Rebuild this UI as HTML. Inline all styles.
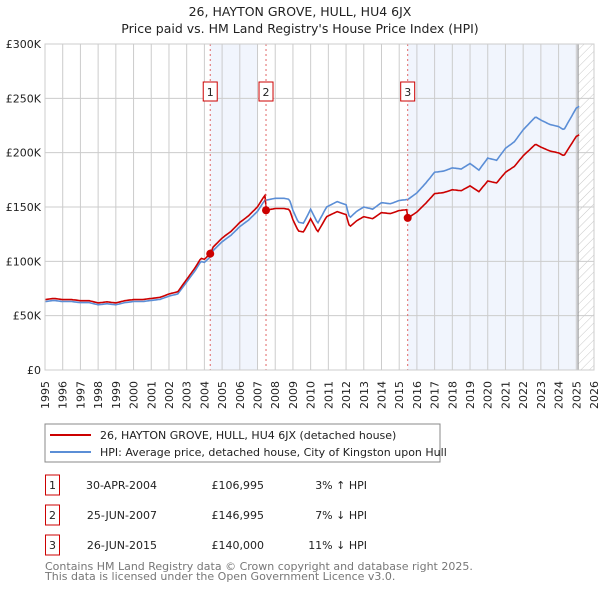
<!DOCTYPE html>
<html><head><meta charset="utf-8"><style>
body{margin:0;background:#fff;font-family:"DejaVu Sans","Liberation Sans",sans-serif;}
svg text{font-family:"DejaVu Sans","Liberation Sans",sans-serif;}
</style></head><body>
<svg id="c" width="600" height="590" xmlns="http://www.w3.org/2000/svg">
<defs><pattern id="hatch" width="6" height="6" patternUnits="userSpaceOnUse" patternTransform="rotate(45)"><line x1="0" y1="0" x2="0" y2="6" stroke="#bbb" stroke-width="0.8"/></pattern></defs>
<text x="300" y="16" text-anchor="middle" font-size="12.5" fill="#222">26, HAYTON GROVE, HULL, HU4 6JX</text>
<text x="300" y="33" text-anchor="middle" font-size="12.5" fill="#222">Price paid vs. HM Land Registry's House Price Index (HPI)</text>
<g id="plot"></g>
<rect x="45" y="424" width="395" height="38" fill="#fff" stroke="#888"/>
<line x1="50" y1="435" x2="91" y2="435" stroke="#cc0000" stroke-width="2"/>
<text x="100" y="439" font-size="11" fill="#222">26, HAYTON GROVE, HULL, HU4 6JX (detached house)</text>
<line x1="50" y1="452" x2="91" y2="452" stroke="#5b8ed6" stroke-width="2"/>
<text x="100" y="456" font-size="11" fill="#222">HPI: Average price, detached house, City of Kingston upon Hull</text>
<g id="tbl" font-size="11" fill="#222"></g>
<text x="45" y="570" font-size="11" fill="#777">Contains HM Land Registry data © Crown copyright and database right 2025.</text>
<text x="45" y="580" font-size="11" fill="#777">This data is licensed under the Open Government Licence v3.0.</text>
</svg>
<script>
const hpiYears=[1995,1995.5,1996,1996.5,1997,1997.5,1998,1998.5,1999,1999.5,2000,2000.5,2001,2001.5,2002,2002.5,2003,2003.5,2003.8,2004,2004.33,2004.5,2005,2005.5,2006,2006.5,2007,2007.4,2007.7,2008,2008.5,2008.8,2009,2009.3,2009.6,2010,2010.4,2010.9,2011.5,2012,2012.2,2012.6,2013,2013.5,2014,2014.5,2015,2015.5,2016,2016.5,2017,2017.5,2018,2018.5,2019,2019.5,2020,2020.5,2021,2021.5,2022,2022.7,2023,2023.5,2024,2024.3,2025,2025.2];
const hpiValues=[63,64,63,63,62,62,60,61,60,62,63,63,64,65,68,70,81,92,100,99,104,110,118,124,132,138,146,156,157,158,158,157,147,136,135,148,135,150,155,152,140,146,150,148,154,153,156,157,163,172,182,183,186,185,190,184,195,193,204,210,221,233,230,226,224,221,241,243];
const saleLabels=["1","2","3"];
const saleYears=[2004.33,2007.48,2015.48];
const salePrices=[106995,146995,140000];
const saleDates=["30-APR-2004","25-JUN-2007","26-JUN-2015"];
const salePriceText=["£106,995","£146,995","£140,000"];
const saleHpiText=["3% ↑ HPI","7% ↓ HPI","11% ↓ HPI"];
const yTicks=[0,50000,100000,150000,200000,250000,300000];
const yTickLabels=["£0","£50K","£100K","£150K","£200K","£250K","£300K"];
const xTicks=[];for(let y=1995;y<=2026;y++)xTicks.push(y);

const L=45,R=594,T=44,B=370,x0=1995,x1=2026,yMax=300000;
const X=v=>L+(v-x0)/(x1-x0)*(R-L);
const Y=v=>B-v/yMax*(B-T);
const NS="http://www.w3.org/2000/svg";
const g=document.getElementById('plot');
function mk(tag,a,parent){const e=document.createElementNS(NS,tag);for(const k in a)e.setAttribute(k,a[k]);(parent||g).appendChild(e);return e;}
function hpiAt(t){for(let i=1;i<hpiYears.length;i++){if(t<=hpiYears[i]){const f=(t-hpiYears[i-1])/(hpiYears[i]-hpiYears[i-1]);return hpiValues[i-1]+f*(hpiValues[i]-hpiValues[i-1]);}}return hpiValues[hpiValues.length-1];}

let e;
e=mk('rect',{x:L,y:T,width:R-L,height:B-T,fill:'#fff'});


e=mk('rect',{x:X(saleYears[0]),y:T,width:X(2007)-X(saleYears[0]),height:B-T,fill:'#eef3fc',opacity:0.8});


e=mk('rect',{x:X(saleYears[2]),y:T,width:X(2025.1)-X(saleYears[2]),height:B-T,fill:'#eef3fc',opacity:0.8});


e=mk('rect',{x:X(2025.1),y:T,width:R-X(2025.1),height:B-T,fill:'url(#hatch)'});


xTicks.forEach(t=>{
  e=mk('line',{x1:X(t),x2:X(t),y1:T,y2:B,stroke:'#ccc','stroke-width':1});
  
  
  e=mk('text',{x:0,y:0,transform:`translate(${X(t)+4},${B+11}) rotate(-90)`,'text-anchor':'end','font-size':11,fill:'#222'});
  e.textContent=t;
  
  
});
yTicks.forEach((t,i)=>{
  e=mk('line',{x1:L,x2:R,y1:Y(t),y2:Y(t),stroke:'#ccc','stroke-width':1});
  
  
  e=mk('text',{x:L-4,y:Y(t)+4,'text-anchor':'end','font-size':11,fill:'#222'});
  e.textContent=yTickLabels[i];
  
  
});
e=mk('line',{x1:X(2025.1),x2:X(2025.1),y1:T,y2:B,stroke:'#999','stroke-width':1.2});


let pts=[];const endT=2025.2;
for(let t=x0;t<=endT+1e-6;t+=1/12)pts.push([t,hpiAt(t)*1000]);
e=mk('polyline',{points:pts.map(p=>X(p[0]).toFixed(1)+','+Y(p[1]).toFixed(1)).join(' '),fill:'none',stroke:'#5b8ed6','stroke-width':1.6});


function ratioAt(t){let k=0;for(let i=0;i<saleYears.length;i++)if(t>=saleYears[i])k=i;return salePrices[k]/(hpiAt(saleYears[k])*1000);}
let rp=pts.map(p=>[p[0],p[1]*ratioAt(p[0])]);
e=mk('polyline',{points:rp.map(p=>X(p[0]).toFixed(1)+','+Y(p[1]).toFixed(1)).join(' '),fill:'none',stroke:'#cc0000','stroke-width':1.6});


saleYears.forEach((s,i)=>{
  e=mk('line',{x1:X(s),x2:X(s),y1:T,y2:B,stroke:'#e06666','stroke-width':1,'stroke-dasharray':'2,3'});
  
  
  e=mk('circle',{cx:X(s),cy:Y(salePrices[i]),r:4,fill:'#cc0000'});
  
  
  e=mk('rect',{x:X(s)-7,y:82,width:14,height:19,fill:'#fff',stroke:'#cc0000'});
  
  
  e=mk('text',{x:X(s),y:96,'text-anchor':'middle','font-size':11,fill:'#222'});
  e.textContent=saleLabels[i];
  
  
});
e=mk('rect',{x:L,y:T,width:R-L,height:B-T,fill:'none',stroke:'#ccc'});


const tb=document.getElementById('tbl');
saleLabels.forEach((l,i)=>{
  const y0=475+i*30;
  e=mk('rect',{x:45.5,y:y0,width:14,height:20,fill:'#fff',stroke:'#cc0000'},tb);
  
  
  e=mk('text',{x:52.5,y:y0+14,'text-anchor':'middle'},tb);e.textContent=l;
  
  
  e=mk('text',{x:157,y:y0+14,'text-anchor':'end'},tb);e.textContent=saleDates[i];
  
  
  e=mk('text',{x:264,y:y0+14,'text-anchor':'end'},tb);e.textContent=salePriceText[i];
  
  
  e=mk('text',{x:367,y:y0+14,'text-anchor':'end'},tb);e.textContent=saleHpiText[i];
  
  
});
</script>
</body></html>
